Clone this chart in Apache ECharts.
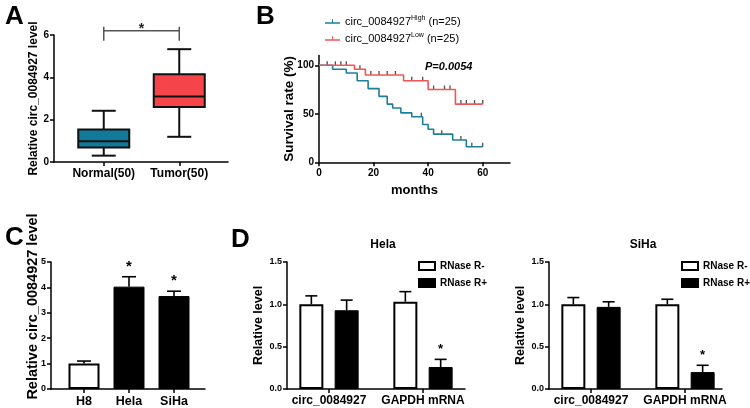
<!DOCTYPE html>
<html><head><meta charset="utf-8">
<script src="https://cdn.jsdelivr.net/npm/echarts@6/dist/echarts.min.js"></script>
<style>html,body{margin:0;padding:0;background:#fff}#c{width:750px;height:408px}</style>
</head><body><div id="c"></div>
<script>
// ---- Panel A: box plot ----
const boxCategories = ['Normal(50)', 'Tumor(50)'];
const boxLow = [0.30, 1.19];
const boxQ1 = [0.68, 2.60];
const boxMedian = [0.98, 3.10];
const boxQ3 = [1.54, 4.14];
const boxHigh = [2.42, 5.33];
const bracketY = 6.2;
const bracketLabel = '*';

// ---- Panel B: Kaplan-Meier ----
const highTimes = [0, 5, 10, 14, 18, 22, 25, 27, 30, 34, 38, 40, 42, 49, 54, 60];
const highSurv = [100, 96, 92, 84, 76, 68, 60, 56, 51, 47, 39, 34, 29, 23, 16, 16];
const highCensorT = [37.5, 45, 52, 56, 60];
const highCensorS = [47, 29, 23, 16, 16];
const lowTimes = [0, 13, 17, 31, 40, 50, 60];
const lowSurv = [100, 96, 90, 84, 75, 60, 60];
const lowCensorT = [3, 6, 8, 10, 15, 19, 22, 25, 28, 34, 38, 42, 46, 48, 52, 54, 57, 60];
const lowCensorS = [100, 100, 100, 100, 96, 90, 90, 90, 90, 84, 84, 75, 75, 75, 60, 60, 60, 60];
const kmLegend = ['High', 'Low'];
const kmN = [25, 25];
const pValueText = 'P=0.0054';

// ---- Panel C ----
const cellLines = ['H8', 'Hela', 'SiHa'];
const cellMeans = [1.00, 4.03, 3.66];
const cellErr = [0.10, 0.39, 0.19];
const cellSig = ['', '*', '*'];

// ---- Panel D ----
const rnaTargets = ['circ_0084927', 'GAPDH mRNA'];
const helaMinus = [1.00, 1.03];
const helaMinusErr = [0.10, 0.12];
const helaPlus = [0.93, 0.26];
const helaPlusErr = [0.12, 0.09];
const helaPlusSig = ['', '*'];
const sihaMinus = [1.00, 1.00];
const sihaMinusErr = [0.08, 0.06];
const sihaPlus = [0.97, 0.20];
const sihaPlusErr = [0.06, 0.08];
const sihaPlusSig = ['', '*'];

const FONT = 'Liberation Sans, Arial, Helvetica, sans-serif';
const AX = {color: '#000', width: 1.5};
const chart = echarts.init(document.getElementById('c'), null, {renderer: 'canvas'});

function axisGridX(gi) {
  return {gridIndex: gi, type: 'value', min: 0, max: 1, axisLine: {show: true, onZero: false, lineStyle: AX},
    axisTick: {show: false}, axisLabel: {show: false}, splitLine: {show: false}};
}
function dataGridX(gi, cats, fs) {
  return {gridIndex: gi, type: 'category', data: cats, axisLine: {show: false, onZero: false},
    axisTick: {show: true, alignWithLabel: true, length: 4, lineStyle: AX},
    axisLabel: {color: '#000', fontWeight: 'bold', fontSize: fs, margin: 6, interval: 0, fontFamily: FONT},
    splitLine: {show: false}};
}
function visY(gi, min, max, interval, name, gap, nameSize, labSize, fmt, namePad) {
  return {gridIndex: gi, type: 'value', min: min, max: max, interval: interval,
    name: name, nameLocation: 'middle', nameGap: gap, nameRotate: 90, nameMoveOverlap: false,
    nameTextStyle: {color: '#000', fontWeight: 'bold', fontSize: nameSize, fontFamily: FONT, padding: namePad || 0},
    axisLine: {show: true, lineStyle: AX}, axisTick: {show: true, length: 4, lineStyle: AX},
    axisLabel: {color: '#000', fontWeight: 'bold', fontSize: labSize, margin: 5, fontFamily: FONT, formatter: fmt, showMaxLabel: max % interval === 0},
    splitLine: {show: false}};
}
function hidY(gi, min, max) {
  return {gridIndex: gi, type: 'value', min: min, max: max, show: false, splitLine: {show: false}};
}
function grid(l, t, w, h) {
  return {left: l, top: t, width: w, height: h, containLabel: false, outerBoundsMode: 'none'};
}

// error bar + star custom series
function errSeries(gi, means, errs, sigs, offset, capW, starGap, starSize) {
  return {
    type: 'custom', xAxisIndex: gi, yAxisIndex: gi, z: 5, silent: true,
    data: means.map((m, i) => [i, m, m + errs[i]]),
    renderItem: function (params, api) {
      const p0 = api.coord([api.value(0), api.value(1)]);
      const p1 = api.coord([api.value(0), api.value(2)]);
      const x = p0[0] + offset;
      const ch = [
        {type: 'line', shape: {x1: x, y1: p0[1], x2: x, y2: p1[1]}, style: {stroke: '#000', lineWidth: 1.6}},
        {type: 'line', shape: {x1: x - capW / 2, y1: p1[1], x2: x + capW / 2, y2: p1[1]}, style: {stroke: '#000', lineWidth: 1.6}}
      ];
      const s = sigs[params.dataIndex];
      if (s) {
        ch.push({type: 'text', style: {text: s, x: x, y: p1[1] - starGap, align: 'center', verticalAlign: 'middle',
          font: 'bold ' + starSize + 'px ' + FONT, fill: '#000'}});
      }
      return {type: 'group', children: ch};
    }
  };
}

const boxFill = ['#13799a', '#f5444a'];
const barW = 24, barGapPx = 11.3;
const grpOff = (barW + barGapPx) / 2;
const T = (s) => ({fontSize: s, fontWeight: 'bold', color: '#000', fontFamily: FONT});

const option = {
  animation: false,
  textStyle: {fontFamily: FONT},
  title: [
    {text: 'A', left: 0, top: -1, textStyle: T(26)},
    {text: 'B', left: 251, top: -1, textStyle: T(26)},
    {text: 'C', left: 0, top: 220, textStyle: T(26)},
    {text: 'D', left: 226, top: 222, textStyle: T(26)},
    {text: 'Hela', left: 378, top: 234, textAlign: 'center', textStyle: T(12)},
    {text: 'SiHa', left: 638, top: 234, textAlign: 'center', textStyle: T(12)}
  ],
  legend: [
    {data: kmLegend, orient: 'vertical', left: 320, top: 10, itemWidth: 15, itemHeight: 4.5, itemGap: 4,
      icon: 'path://M0,6H30V9H0Z M14,0H16V6H14Z',
      formatter: function (n) { const i = kmLegend.indexOf(n); return '{a|circ_0084927}{s|' + n + '}{a| (n=' + kmN[i] + ')}'; },
      textStyle: {color: '#000', fontSize: 11, fontFamily: FONT,
        rich: {a: {fontSize: 11, color: '#000', fontFamily: FONT, lineHeight: 13},
               s: {fontSize: 7, color: '#000', fontFamily: FONT, lineHeight: 13, padding: [0, 0, 6, 0]}}}},
    {data: ['RNase R-', 'RNase R+'], orient: 'vertical', left: 413, top: 256, itemWidth: 16, itemHeight: 8, itemGap: 7, icon: 'rect',
      textStyle: T(10)},
    {data: ['RNase R-', 'RNase R+'], orient: 'vertical', left: 676, top: 256, itemWidth: 16, itemHeight: 8, itemGap: 7, icon: 'rect',
      textStyle: T(10)}
  ],
  graphic: [
    {type: 'text', left: 425, top: 61, style: {text: pValueText, font: 'italic bold 11px ' + FONT, fill: '#000'}}
  ],
  grid: [
    grid(54, 35, 174, 127),
    grid(66, 35, 151, 127),
    grid(319, 55.6, 191, 106.7),
    grid(51, 262, 154, 127),
    grid(61.5, 262, 135, 127),
    grid(287, 262, 178, 127),
    grid(282, 262, 188, 127),
    grid(549, 262, 173, 127),
    grid(544, 262, 188, 127)
  ],
  xAxis: [
    axisGridX(0),
    dataGridX(1, boxCategories, 12),
    {gridIndex: 2, type: 'value', min: 0, max: 70, interval: 20, name: 'months', nameLocation: 'middle', nameGap: 22,
      nameTextStyle: T(13),
      axisLine: {show: true, onZero: false, lineStyle: AX}, axisTick: {show: true, length: 4, lineStyle: AX},
      axisLabel: {color: '#000', fontWeight: 'bold', fontSize: 10, margin: 6, showMaxLabel: false, fontFamily: FONT},
      splitLine: {show: false}},
    axisGridX(3),
    dataGridX(4, cellLines, 12.5),
    axisGridX(5),
    dataGridX(6, rnaTargets, 12),
    axisGridX(7),
    dataGridX(8, rnaTargets, 12)
  ],
  yAxis: [
    visY(0, 0, 6, 2, 'Relative circ_0084927 level', 14, 12, 10),
    hidY(1, 0, 6),
    visY(2, 0, 110, 50, 'Survival rate (%)', 23, 13.5, 10),
    visY(3, 0, 5, 1, 'Relative circ_0084927 level', 11, 14.5, 9, undefined, [0, 0, 0, 38]),
    hidY(4, 0, 5),
    visY(5, 0, 1.5, 0.5, 'Relative level', 22, 12.5, 9, v => v.toFixed(1)),
    hidY(6, 0, 1.5),
    visY(7, 0, 1.5, 0.5, 'Relative level', 22, 12.5, 9, v => v.toFixed(1)),
    hidY(8, 0, 1.5)
  ],
  series: [
    // Panel A box plot
    {type: 'custom', xAxisIndex: 1, yAxisIndex: 1, silent: true,
      data: boxCategories.map((c, i) => [i, boxLow[i], boxQ1[i], boxMedian[i], boxQ3[i], boxHigh[i]]),
      renderItem: function (params, api) {
        const i = api.value(0);
        const lo = api.coord([i, api.value(1)]), q1 = api.coord([i, api.value(2)]), md = api.coord([i, api.value(3)]);
        const q3 = api.coord([i, api.value(4)]), hi = api.coord([i, api.value(5)]);
        const cx = lo[0], bw = 51, cw = 24, st = {stroke: '#111', lineWidth: 2};
        return {type: 'group', children: [
          {type: 'line', shape: {x1: cx, y1: hi[1], x2: cx, y2: q3[1]}, style: st},
          {type: 'line', shape: {x1: cx, y1: q1[1], x2: cx, y2: lo[1]}, style: st},
          {type: 'line', shape: {x1: cx - cw / 2, y1: hi[1], x2: cx + cw / 2, y2: hi[1]}, style: st},
          {type: 'line', shape: {x1: cx - cw / 2, y1: lo[1], x2: cx + cw / 2, y2: lo[1]}, style: st},
          {type: 'rect', shape: {x: cx - bw / 2, y: q3[1], width: bw, height: q1[1] - q3[1]},
            style: {fill: boxFill[params.dataIndex], stroke: '#111', lineWidth: 2}},
          {type: 'line', shape: {x1: cx - bw / 2, y1: md[1], x2: cx + bw / 2, y2: md[1]}, style: st}
        ]};
      }},
    // Panel A significance bracket
    {type: 'custom', xAxisIndex: 1, yAxisIndex: 1, silent: true, clip: false,
      data: [[0, 1, bracketY]],
      renderItem: function (params, api) {
        const a = api.coord([api.value(0), api.value(2)]), b = api.coord([api.value(1), api.value(2)]);
        const st = {stroke: '#555', lineWidth: 1.5};
        return {type: 'group', children: [
          {type: 'line', shape: {x1: a[0], y1: a[1], x2: b[0], y2: b[1]}, style: st},
          {type: 'line', shape: {x1: a[0], y1: a[1] - 4, x2: a[0], y2: a[1] + 10}, style: st},
          {type: 'line', shape: {x1: b[0], y1: b[1] - 4, x2: b[0], y2: b[1] + 10}, style: st},
          {type: 'text', style: {text: bracketLabel, x: (a[0] + b[0]) / 2, y: a[1] - 2, align: 'center', verticalAlign: 'middle',
            font: 'bold 14px ' + FONT, fill: '#222'}}
        ]};
      }},
    // Panel B KM curves
    {name: 'High', type: 'line', xAxisIndex: 2, yAxisIndex: 2, step: 'end', showSymbol: false, symbol: 'none',
      data: highTimes.map((t, i) => [t, highSurv[i]]), lineStyle: {color: '#1e7f9b', width: 1.6}, itemStyle: {color: '#1e7f9b'}},
    {name: 'Low', type: 'line', xAxisIndex: 2, yAxisIndex: 2, step: 'end', showSymbol: false, symbol: 'none',
      data: lowTimes.map((t, i) => [t, lowSurv[i]]), lineStyle: {color: '#f25454', width: 1.6}, itemStyle: {color: '#f25454'}},
    {name: 'highCensor', type: 'scatter', xAxisIndex: 2, yAxisIndex: 2, symbol: 'rect', symbolSize: [1.3, 4], symbolOffset: [0, -2],
      data: highCensorT.map((t, i) => [t, highCensorS[i]]), itemStyle: {color: '#222'}, silent: true},
    {name: 'lowCensor', type: 'scatter', xAxisIndex: 2, yAxisIndex: 2, symbol: 'rect', symbolSize: [1.3, 4], symbolOffset: [0, -2],
      data: lowCensorT.map((t, i) => [t, lowCensorS[i]]), itemStyle: {color: '#222'}, silent: true},
    // Panel C bars
    {type: 'bar', xAxisIndex: 4, yAxisIndex: 4, barWidth: 31,
      data: cellMeans.map((v, i) => ({value: v, itemStyle: i === 0 ? {color: '#fff', borderColor: '#000', borderWidth: 2} : {color: '#000', borderColor: '#000', borderWidth: 1}}))},
    errSeries(4, cellMeans, cellErr, cellSig, 0, 14, 10, 15),
    // Panel D Hela
    {name: 'RNase R-', type: 'bar', xAxisIndex: 6, yAxisIndex: 6, barWidth: barW, barGap: (barGapPx / barW * 100) + '%',
      data: helaMinus, itemStyle: {color: '#fff', borderColor: '#000', borderWidth: 2}},
    {name: 'RNase R+', type: 'bar', xAxisIndex: 6, yAxisIndex: 6, barWidth: barW,
      data: helaPlus, itemStyle: {color: '#000', borderColor: '#000', borderWidth: 1}},
    errSeries(6, helaMinus, helaMinusErr, ['', ''], -grpOff, 12, 10, 13),
    errSeries(6, helaPlus, helaPlusErr, helaPlusSig, grpOff, 12, 10, 13),
    // Panel D SiHa
    {name: 'RNase R-', type: 'bar', xAxisIndex: 8, yAxisIndex: 8, barWidth: barW, barGap: (barGapPx / barW * 100) + '%',
      data: sihaMinus, itemStyle: {color: '#fff', borderColor: '#000', borderWidth: 2}},
    {name: 'RNase R+', type: 'bar', xAxisIndex: 8, yAxisIndex: 8, barWidth: barW,
      data: sihaPlus, itemStyle: {color: '#000', borderColor: '#000', borderWidth: 1}},
    errSeries(8, sihaMinus, sihaMinusErr, ['', ''], -grpOff, 12, 10, 13),
    errSeries(8, sihaPlus, sihaPlusErr, sihaPlusSig, grpOff, 12, 10, 13)
  ]
};
chart.setOption(option);
</script></body></html>
